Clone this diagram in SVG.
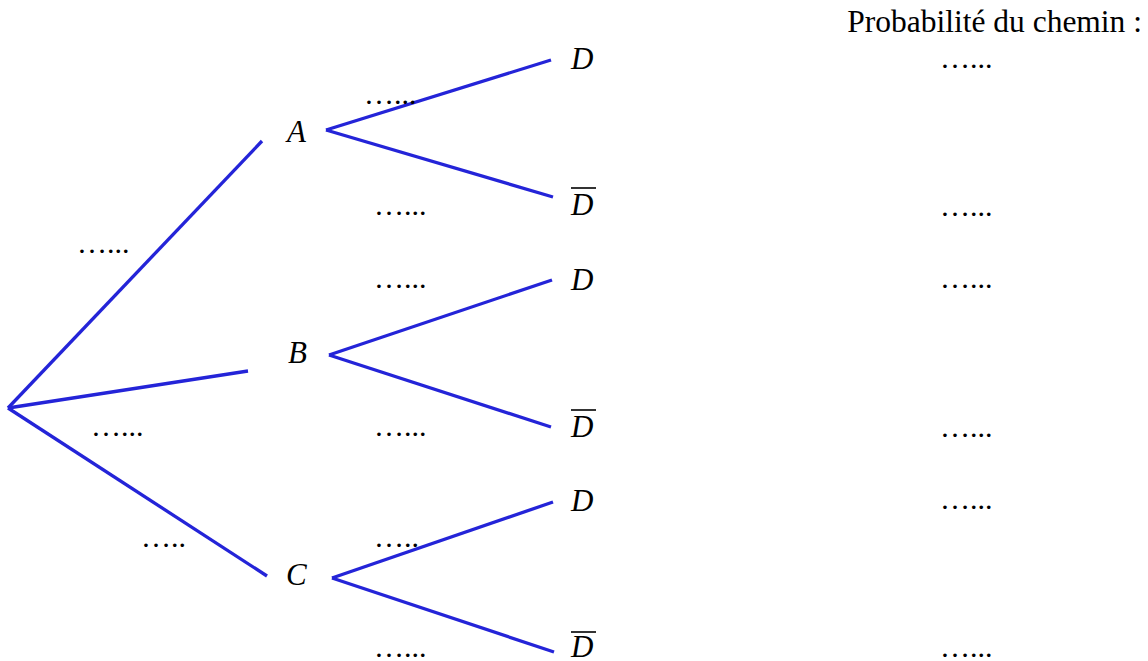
<svg xmlns="http://www.w3.org/2000/svg" width="1148" height="661" viewBox="0 0 1148 661">
<style>
.t{font-family:"Liberation Serif","Times New Roman",serif;font-size:30px;fill:#000}
.i{font-style:italic;font-size:31px}
.br{stroke:#2424d8;stroke-width:3.3;fill:none;stroke-linecap:butt}
.ov{stroke:#000;stroke-width:1.6}
</style>
<rect width="1148" height="661" fill="#fff"/>
<g id="connectors">
<line class="br" x1="8" y1="408" x2="262" y2="141"/>
<line class="br" x1="8" y1="408" x2="248" y2="371"/>
<line class="br" x1="8" y1="408" x2="267" y2="576"/>
<line class="br" x1="326" y1="130" x2="551" y2="60"/>
<line class="br" x1="326" y1="130" x2="553" y2="197"/>
<line class="br" x1="329" y1="355" x2="552" y2="280"/>
<line class="br" x1="329" y1="355" x2="551" y2="427"/>
<line class="br" x1="332" y1="578" x2="553" y2="502"/>
<line class="br" x1="332" y1="578" x2="554" y2="652"/>
</g>
<g id="header"><text class="t" x="1142" y="32" text-anchor="end" style="font-size:31.5px">Probabilité du chemin :</text></g>
<g id="node-A"><text class="t i" x="287" y="142">A</text></g>
<g id="node-B"><text class="t i" x="288" y="363">B</text></g>
<g id="node-C"><text class="t i" x="286" y="585">C</text></g>
<g id="node-AD"><text class="t i" x="571" y="69">D</text></g>
<g id="node-ADbar"><text class="t i" x="571" y="215">D</text><line class="ov" x1="571" y1="188" x2="596" y2="188"/></g>
<g id="node-BD"><text class="t i" x="571" y="290">D</text></g>
<g id="node-BDbar"><text class="t i" x="571" y="437">D</text><line class="ov" x1="571" y1="410" x2="596" y2="410"/></g>
<g id="node-CD"><text class="t i" x="571" y="511">D</text></g>
<g id="node-CDbar"><text class="t i" x="571" y="657">D</text><line class="ov" x1="571" y1="632" x2="596" y2="632"/></g>
<g id="labels">
<text class="t" x="77" y="253">…...</text>
<text class="t" x="91" y="436">…...</text>
<text class="t" x="141" y="547">…..</text>
<text class="t" x="364" y="104">…...</text>
<text class="t" x="374" y="215">…...</text>
<text class="t" x="374" y="288">…...</text>
<text class="t" x="374" y="436">…...</text>
<text class="t" x="374" y="547">…..</text>
<text class="t" x="374" y="657">…...</text>
</g>
<g id="probas">
<text class="t" x="940" y="68">…...</text>
<text class="t" x="940" y="216">…...</text>
<text class="t" x="940" y="288">…...</text>
<text class="t" x="940" y="437">…...</text>
<text class="t" x="940" y="509">…...</text>
<text class="t" x="940" y="657">…...</text>
</g>
</svg>
